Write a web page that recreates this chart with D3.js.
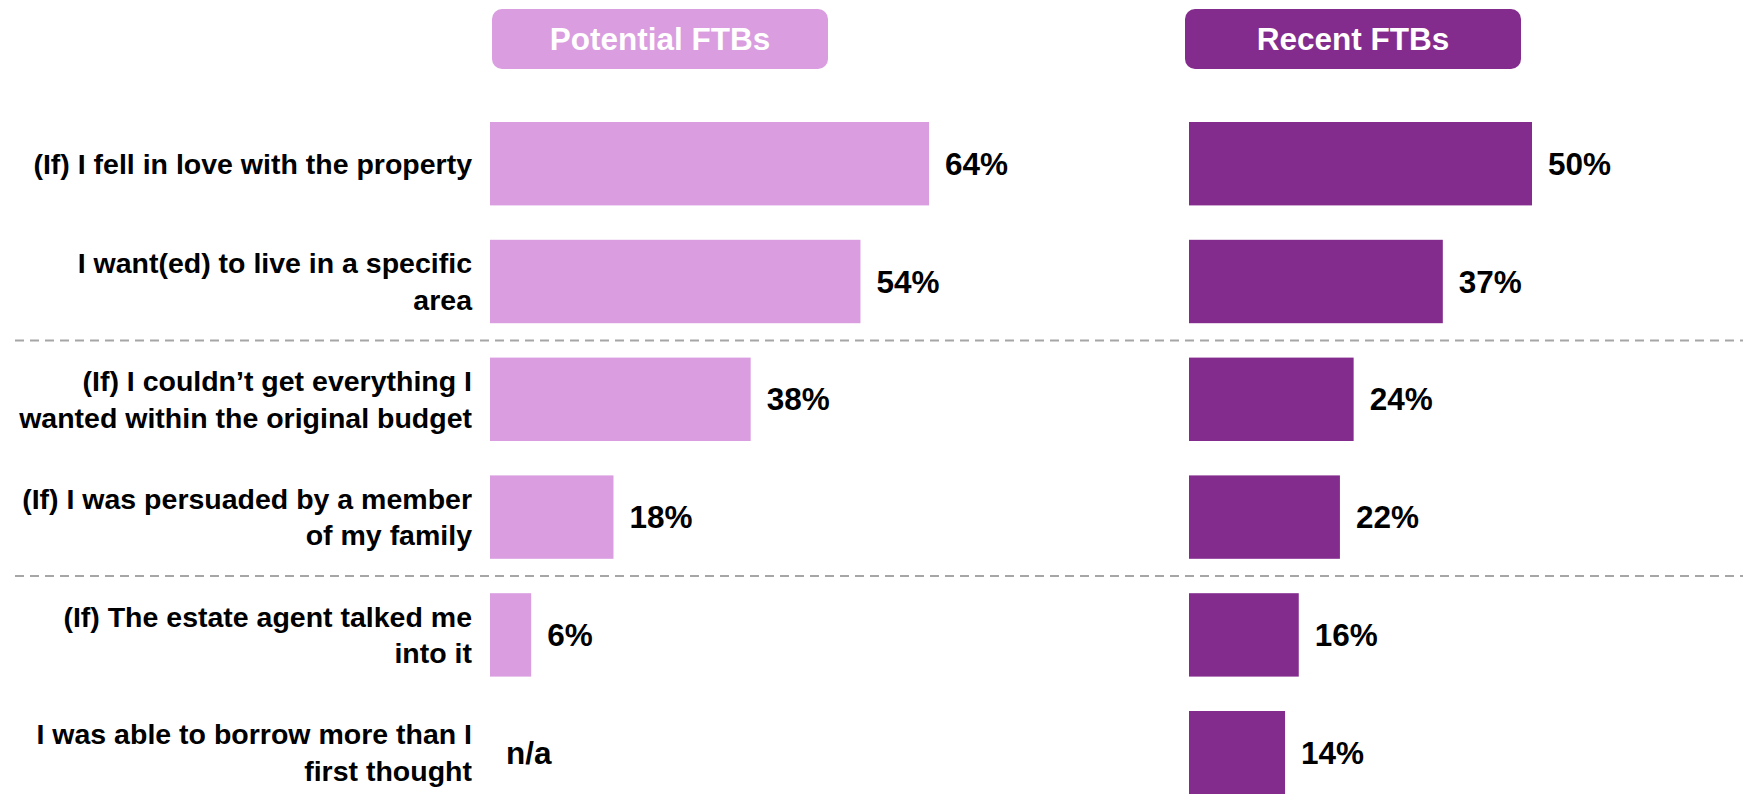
<!DOCTYPE html>
<html>
<head>
<meta charset="utf-8">
<script src="https://cdn.jsdelivr.net/npm/d3@7"></script>
<style>
  html, body { margin: 0; padding: 0; background: #fff; }
  svg { display: block; font-family: "Liberation Sans", Arial, sans-serif; }
</style>
</head>
<body>
<svg id="chart" width="1743" height="794"></svg>
<script>
// ---- data ----
const categories = [
  "(If) I fell in love with the property",
  "I want(ed) to live in a specific area",
  "(If) I couldn’t get everything I wanted within the original budget",
  "(If) I was persuaded by a member of my family",
  "(If) The estate agent talked me into it",
  "I was able to borrow more than I first thought"
];
const categoryLines = [
  ["(If) I fell in love with the property"],
  ["I want(ed) to live in a specific", "area"],
  ["(If) I couldn’t get everything I", "wanted within the original budget"],
  ["(If) I was persuaded by a member", "of my family"],
  ["(If) The estate agent talked me", "into it"],
  ["I was able to borrow more than I", "first thought"]
];
const seriesNames = ["Potential FTBs", "Recent FTBs"];
const potentialValues = [64, 54, 38, 18, 6, null];
const recentValues = [50, 37, 24, 22, 16, 14];
const separatorsAfter = [1, 3]; // dashed line after these category indices

// ---- layout ----
const svg = d3.select("#chart");
const W = 1743, H = 794;
const colors = ["#D99DE0", "#842C8E"];
const panelX = [490, 1189];
const headerX = [492, 1185];
const headerW = 336, headerY = 9, headerH = 60;

const y = d3.scaleBand()
  .domain(categories)
  .range([104.8, 811.6])
  .paddingInner(0.292)
  .paddingOuter(0.146);

const x = d3.scaleLinear().domain([0, 100]).range([0, 686]);

// dashed separators
separatorsAfter.forEach(i => {
  const yy = y(categories[i + 1]) - y.step() * y.paddingInner() / 2;
  svg.append("line")
    .attr("x1", 15).attr("x2", W)
    .attr("y1", yy).attr("y2", yy)
    .attr("stroke", "#A6A6A6")
    .attr("stroke-width", 2)
    .attr("stroke-dasharray", "9,6");
});

// category labels
const labelFont = 28.5;
const lineGap = 36.7;
const lab = svg.append("g");
categories.forEach((c, i) => {
  const lines = categoryLines[i];
  const cy = y(c) + y.bandwidth() / 2;
  const t = lab.append("text")
    .attr("text-anchor", "end")
    .attr("font-weight", "bold")
    .attr("font-size", labelFont)
    .attr("fill", "#000");
  lines.forEach((ln, k) => {
    t.append("tspan")
      .attr("x", 472)
      .attr("y", cy + (k - (lines.length - 1) / 2) * lineGap)
      .attr("dy", "0.35em")
      .text(ln);
  });
});

// panels
const seriesData = [potentialValues, recentValues];
seriesData.forEach((vals, s) => {
  const g = svg.append("g");
  // header
  g.append("rect")
    .attr("x", headerX[s]).attr("y", headerY)
    .attr("width", headerW).attr("height", headerH)
    .attr("rx", 10).attr("ry", 10)
    .attr("fill", colors[s]);
  g.append("text")
    .attr("x", headerX[s] + headerW / 2)
    .attr("y", headerY + headerH / 2)
    .attr("dy", "0.35em")
    .attr("text-anchor", "middle")
    .attr("font-weight", "bold")
    .attr("font-size", 31.5)
    .attr("fill", "#fff")
    .text(seriesNames[s]);

  // bars
  g.selectAll("rect.bar")
    .data(categories.map((c, i) => ({ c, v: vals[i] })).filter(d => d.v != null))
    .join("rect")
    .attr("class", "bar")
    .attr("x", panelX[s])
    .attr("y", d => y(d.c))
    .attr("width", d => x(d.v))
    .attr("height", y.bandwidth())
    .attr("fill", colors[s]);

  // value labels
  g.selectAll("text.val")
    .data(categories.map((c, i) => ({ c, v: vals[i] })))
    .join("text")
    .attr("class", "val")
    .attr("x", d => panelX[s] + x(d.v == null ? 0 : d.v) + 16)
    .attr("y", d => y(d.c) + y.bandwidth() / 2)
    .attr("dy", "0.35em")
    .attr("font-weight", "bold")
    .attr("font-size", 31.5)
    .attr("fill", "#000")
    .text(d => d.v == null ? "n/a" : d.v + "%");
});
</script>
</body>
</html>
